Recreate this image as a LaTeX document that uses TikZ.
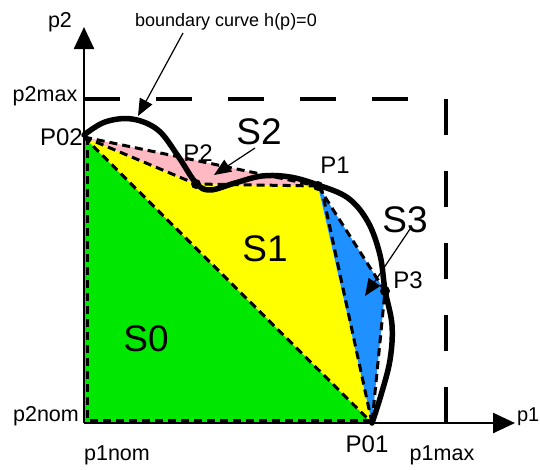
\documentclass[tikz,border=0pt]{standalone}
\usepackage{fontspec}
\setmainfont{Liberation Sans}
\usetikzlibrary{arrows.meta}
\definecolor{rgreen}{RGB}{0,232,0}
\definecolor{ryellow}{RGB}{255,255,0}
\definecolor{rpink}{RGB}{255,185,195}
\definecolor{rblue}{RGB}{30,144,255}
\begin{document}
\begin{tikzpicture}[x=1pt,y=-1pt,
  regdash/.style={line width=3pt, dash pattern=on 8pt off 5pt},
  axisline/.style={line width=2.5pt, -{Triangle[length=22pt,width=20pt]}},
  limitline/.style={line width=4.5pt, dash pattern=on 36pt off 36pt},
  hcurve/.style={line width=5.5pt, line join=round, line cap=round},
  callout/.style={line width=1.2pt, -{Triangle[length=17pt,width=14pt]}},
  dot/.style={circle, fill=black, inner sep=0pt, minimum size=10pt},
  lbl/.style={font=\fontsize{21.5}{23}\selectfont, inner sep=0pt},
  plbl/.style={font=\fontsize{24}{26}\selectfont, inner sep=0pt},
  slbl/.style={font=\fontsize{37}{40}\selectfont, inner sep=0pt}
]
\useasboundingbox (0,0) rectangle (540,469);

% key points
\coordinate (O) at (84,423);
\coordinate (P02) at (84,137);
\coordinate (P01) at (372,423);
\coordinate (P2) at (196,184);
\coordinate (P1) at (318,186);
\coordinate (P3) at (385,291);

% regions
\fill[rgreen] (O) -- (P02) -- (P01) -- cycle;
\fill[ryellow] (P02) -- (P2) -- (P1) -- (P01) -- cycle;
\fill[rpink] (P02) -- (P1) -- (P2) -- cycle;
\fill[rblue] (P1) -- (P3) -- (P01) -- cycle;

% dashed region outlines
\coordinate (gl1) at (87,137);
\coordinate (gl2) at (87,420);
\coordinate (gl3) at (372,420);
\draw[regdash] (gl1) -- (gl2) -- (gl3);
\draw[regdash] (P02) -- (P01);
\draw[regdash] (P02) -- (P2) -- (P1);
\draw[regdash] (P02) -- (P1);
\draw[regdash] ([xshift=3pt]P1) -- (P01);
\draw[regdash] (P1) -- (P3) -- (P01);

% limit lines
\coordinate (h1) at (84,99);
\coordinate (h2) at (430,99);
\coordinate (v1) at (446,99);
\coordinate (v2) at (446,423);
\draw[limitline] (h1) -- (h2);
\draw[limitline] (v1) -- (v2);

% axes
\coordinate (ytip) at (84,27);
\coordinate (xtip) at (515,423);
\draw[axisline] (O) -- (ytip);
\draw[axisline] (O) -- (xtip);

% boundary curve
\draw[hcurve] plot[smooth, tension=0.6] coordinates {(84,135) (105,122) (132,119) (158,130) (178,156) (196,183) (210,190) (235,183) (262,176) (290,177) (318,185) (348,198) (368,222) (380,255) (385,290) (392,325) (390,360) (381,395) (372,423)};

\node[dot] (dP2) at (P2) {};
\node[dot] (dP1) at (P1) {};
\node[dot] (dP3) at (P3) {};

% labels
\node[lbl] (lp2) at (60,22) {p2};
\node[lbl] (lp2max) at (45,96) {p2max};
\node[plbl, anchor=east] (lP02) at (83,137) {P02};
\node[lbl] (lp2nom) at (46,416) {p2nom};
\node[lbl] (lp1nom) at (117,455) {p1nom};
\node[plbl] (lP01) at (367,444) {P01};
\node[lbl] (lp1max) at (442,455) {p1max};
\node[font=\fontsize{20}{22}\selectfont, inner sep=0pt, anchor=east] (lp1) at (539.5,417) {p1};
\node[plbl] (lP2) at (198,153) {P2};
\node[plbl] (lP1) at (335,165) {P1};
\node[plbl] (lP3) at (408,280) {P3};
\node[slbl] (lS2) at (259,132) {S2};
\node[slbl] (lS3) at (405,220) {S3};
\node[slbl] (lS1) at (265,249) {S1};
\node[slbl] (lS0) at (146,339) {S0};
\node[font=\fontsize{18}{20}\selectfont, inner sep=0pt, anchor=base west] (lbc) at (135,26) {boundary curve h(p)=0};

% callout arrows
\coordinate (bcs) at (183,33);
\coordinate (bct) at (138,116);
\draw[callout] (bcs) -- (bct);
\coordinate (s2s) at (255,148);
\coordinate (s2t) at (214,175);
\draw[callout] (s2s) -- (s2t);
\coordinate (s3s) at (410,229);
\coordinate (s3t) at (365,296);
\draw[callout] (s3s) -- (s3t);
\end{tikzpicture}
\end{document}
